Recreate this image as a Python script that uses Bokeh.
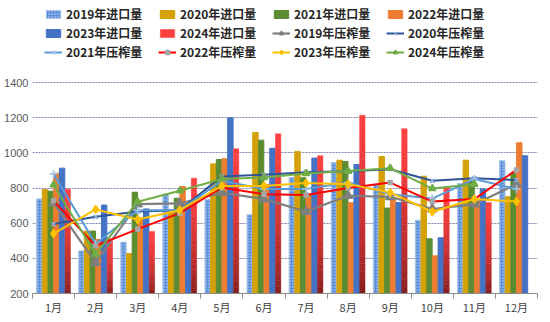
import numpy as np
from bokeh.plotting import figure
from bokeh.models import (Legend, LegendItem, FixedTicker, Range1d, ColumnDataSource)
from bokeh.embed import file_html
from bokeh.resources import INLINE

months = ["1月", "2月", "3月", "4月", "5月", "6月", "7月", "8月", "9月", "10月", "11月", "12月"]

imp2019 = [738, 443, 492, 765, 735, 649, 860, 945, 820, 617, 825, 955]
imp2020 = [791, 555, 427, 670, 937, 1116, 1008, 958, 979, 867, 958, 750]
imp2021 = [782, 555, 776, 742, 962, 1072, 858, 951, 686, 511, 835, 882]
imp2022 = [884, 507, 630, 808, 966, 820, 760, 716, 745, 414, 727, 1057]
imp2023 = [913, 703, 681, 708, 1199, 1026, 970, 934, 717, 517, 794, 983]
imp2024 = [793, 512, 553, 856, 1023, 1108, 983, 1214, 1137, 805, 718, None]

crush2019 = [715, 376, 708, 712, 774, 737, 666, 756, 750, 680, 708, 822]
crush2020 = [595, 636, 666, 674, 866, 875, 890, 895, 907, 841, 855, 845]
crush2021 = [879, 483, 674, 674, 841, 794, 795, 831, 765, 740, 851, 794]
crush2022 = [727, 471, 566, 657, 803, 765, 760, 800, 831, 723, 737, 903]
crush2023 = [541, 678, 621, 674, 812, 812, 828, 822, 774, 665, 737, 723]
crush2024 = [818, 424, 722, 784, 851, 860, 883, 896, 913, 797, 822, None]

imp_names = ["2019年进口量", "2020年进口量", "2021年进口量", "2022年进口量", "2023年进口量", "2024年进口量"]
crush_names = ["2019年压榨量", "2020年压榨量", "2021年压榨量", "2022年压榨量", "2023年压榨量", "2024年压榨量"]
y_ticks = [200, 400, 600, 800, 1000, 1200, 1400]

BASE = 200
centers = np.arange(len(months)) + 0.5
bw = 0.135

FRAME_BOTTOM_PX = 29
H = 322
frame_h = H - FRAME_BOTTOM_PX
px_per_unit = (frame_h - 82) / (1400 - 200)
y_top = 200 + frame_h / px_per_unit

p = figure(width=550, height=H, output_backend="svg", toolbar_location=None,
           x_range=Range1d(0, 12), y_range=Range1d(200, y_top),
           min_border_left=32, min_border_right=13, min_border_bottom=FRAME_BOTTOM_PX,
           min_border_top=0)
p.outline_line_color = None
p.background_fill_color = "white"

CJK = "Noto Sans CJK SC"

bar_colors = ["#5B8FD8", "#D4A106", "#5B8C32", "#ED7D31", "#4472C4", None]
imps = [imp2019, imp2020, imp2021, imp2022, imp2023, imp2024]
bar_renderers = []
for i, (vals, col) in enumerate(zip(imps, bar_colors)):
    xs = centers + (i - 2.5) * bw
    if i == 5:
        gx, gb, gt, gc = [], [], [], []
        n = 24
        dark = np.array([0x7A, 0x1C, 0x1C])
        bright = np.array([0xFF, 0x40, 0x40])
        for x, v in zip(xs, vals):
            if v is None:
                continue
            edges = np.linspace(BASE, v, n + 1)
            for k in range(n):
                t = (k + 0.5) / n
                t = min(1.0, t ** 0.6 * 1.05)
                c = dark + (bright - dark) * t
                gx.append(float(x)); gb.append(float(edges[k])); gt.append(float(edges[k + 1]))
                gc.append("#%02x%02x%02x" % tuple(int(round(q)) for q in c))
        src = ColumnDataSource(dict(x=gx, bottom=gb, top=gt, color=gc))
        r = p.vbar(x="x", bottom="bottom", top="top", width=bw * 0.95, fill_color="color",
                   line_color="color", line_width=0.5, source=src)
        bar_renderers.append((r, n - 3))
    else:
        xv = [float(x) for x, q in zip(xs, vals) if q is not None]
        v = [float(q) for q in vals if q is not None]
        src = ColumnDataSource(dict(x=xv, top=v))
        if i == 0:
            r = p.vbar(x="x", top="top", bottom=BASE, width=bw * 0.95, source=src,
                       fill_color=col, line_color="#A9C4EB", line_width=1,
                       hatch_pattern="dot", hatch_color="#C9DBF3", hatch_scale=3, hatch_weight=1)
        else:
            r = p.vbar(x="x", top="top", bottom=BASE, width=bw * 0.95, source=src,
                       fill_color=col, line_color=col)
        bar_renderers.append((r, None))

crushes = [crush2019, crush2020, crush2021, crush2022, crush2023, crush2024]
line_styles = [
    dict(color="#7F7F7F", width=2.2, marker="triangle", msize=9, mcolor="#7F7F7F"),
    dict(color="#2F5597", width=2.0, marker="x", msize=6, mcolor="#8FAADC"),
    dict(color="#5B9BD5", width=2.0, marker="cross", msize=8, mcolor="#9DC3E6"),
    dict(color="#FF0000", width=2.0, marker="square", msize=4, mcolor="#A6A6A6"),
    dict(color="#FFC000", width=2.0, marker="diamond", msize=8, mcolor="#FFC000"),
    dict(color="#70AD47", width=2.0, marker="triangle", msize=7, mcolor="#70AD47"),
]
line_renderers = []
for vals, st in zip(crushes, line_styles):
    xs = [float(x) for x, v in zip(centers, vals) if v is not None]
    ys = [float(v) for v in vals if v is not None]
    lr = p.line(xs, ys, line_color=st["color"], line_width=st["width"])
    mr = p.scatter(xs, ys, marker=st["marker"], size=st["msize"], fill_color=st["mcolor"],
                   line_color=st["mcolor"], line_width=1.5)
    line_renderers.append([lr, mr])

items = []
for name, (r, idx) in zip(imp_names, bar_renderers):
    if idx is None:
        items.append(LegendItem(label=name, renderers=[r]))
    else:
        items.append(LegendItem(label=name, renderers=[r], index=idx))
for name, rs in zip(crush_names, line_renderers):
    items.append(LegendItem(label=name, renderers=rs))

legend = Legend(items=items, orientation="horizontal", ncols=4,
                location=(12, frame_h - 60), margin=0, padding=6,
                glyph_width=18, glyph_height=10, label_width=90, label_height=14,
                label_standoff=4, spacing=2,
                label_text_font=CJK, label_text_font_size="12px", label_text_font_style="bold",
                label_text_color="#262626", border_line_color=None, background_fill_alpha=0)
p.add_layout(legend, "center")

p.yaxis.ticker = FixedTicker(ticks=y_ticks)
p.yaxis.axis_line_color = None
p.yaxis.major_tick_line_color = None
p.yaxis.major_tick_out = 0
p.yaxis.minor_tick_line_color = None
p.yaxis.major_label_text_font = "Liberation Sans"
p.yaxis.major_label_text_font_size = "11px"
p.yaxis.major_label_text_color = "#595959"
p.yaxis.major_label_standoff = 4

p.xaxis.ticker = FixedTicker(ticks=[float(c) for c in centers], minor_ticks=list(range(13)))
p.xaxis.major_label_overrides = {float(c): m for c, m in zip(centers, months)}
p.xaxis.major_tick_line_color = None
p.xaxis.major_tick_out = 0
p.xaxis.minor_tick_out = 5
p.xaxis.minor_tick_in = 0
p.xaxis.minor_tick_line_color = "#8C8C8C"
p.xaxis.axis_line_color = "#8C8C8C"
p.xaxis.major_label_text_font = CJK
p.xaxis.major_label_text_font_size = "11px"
p.xaxis.major_label_text_color = "#404040"
p.xaxis.major_label_standoff = 0

p.xgrid.grid_line_color = None
p.ygrid.grid_line_color = "#8080B0"
p.ygrid.grid_line_dash = "2 1"
p.ygrid.grid_line_width = 1

open("out.html", "w").write(file_html(p, INLINE))
